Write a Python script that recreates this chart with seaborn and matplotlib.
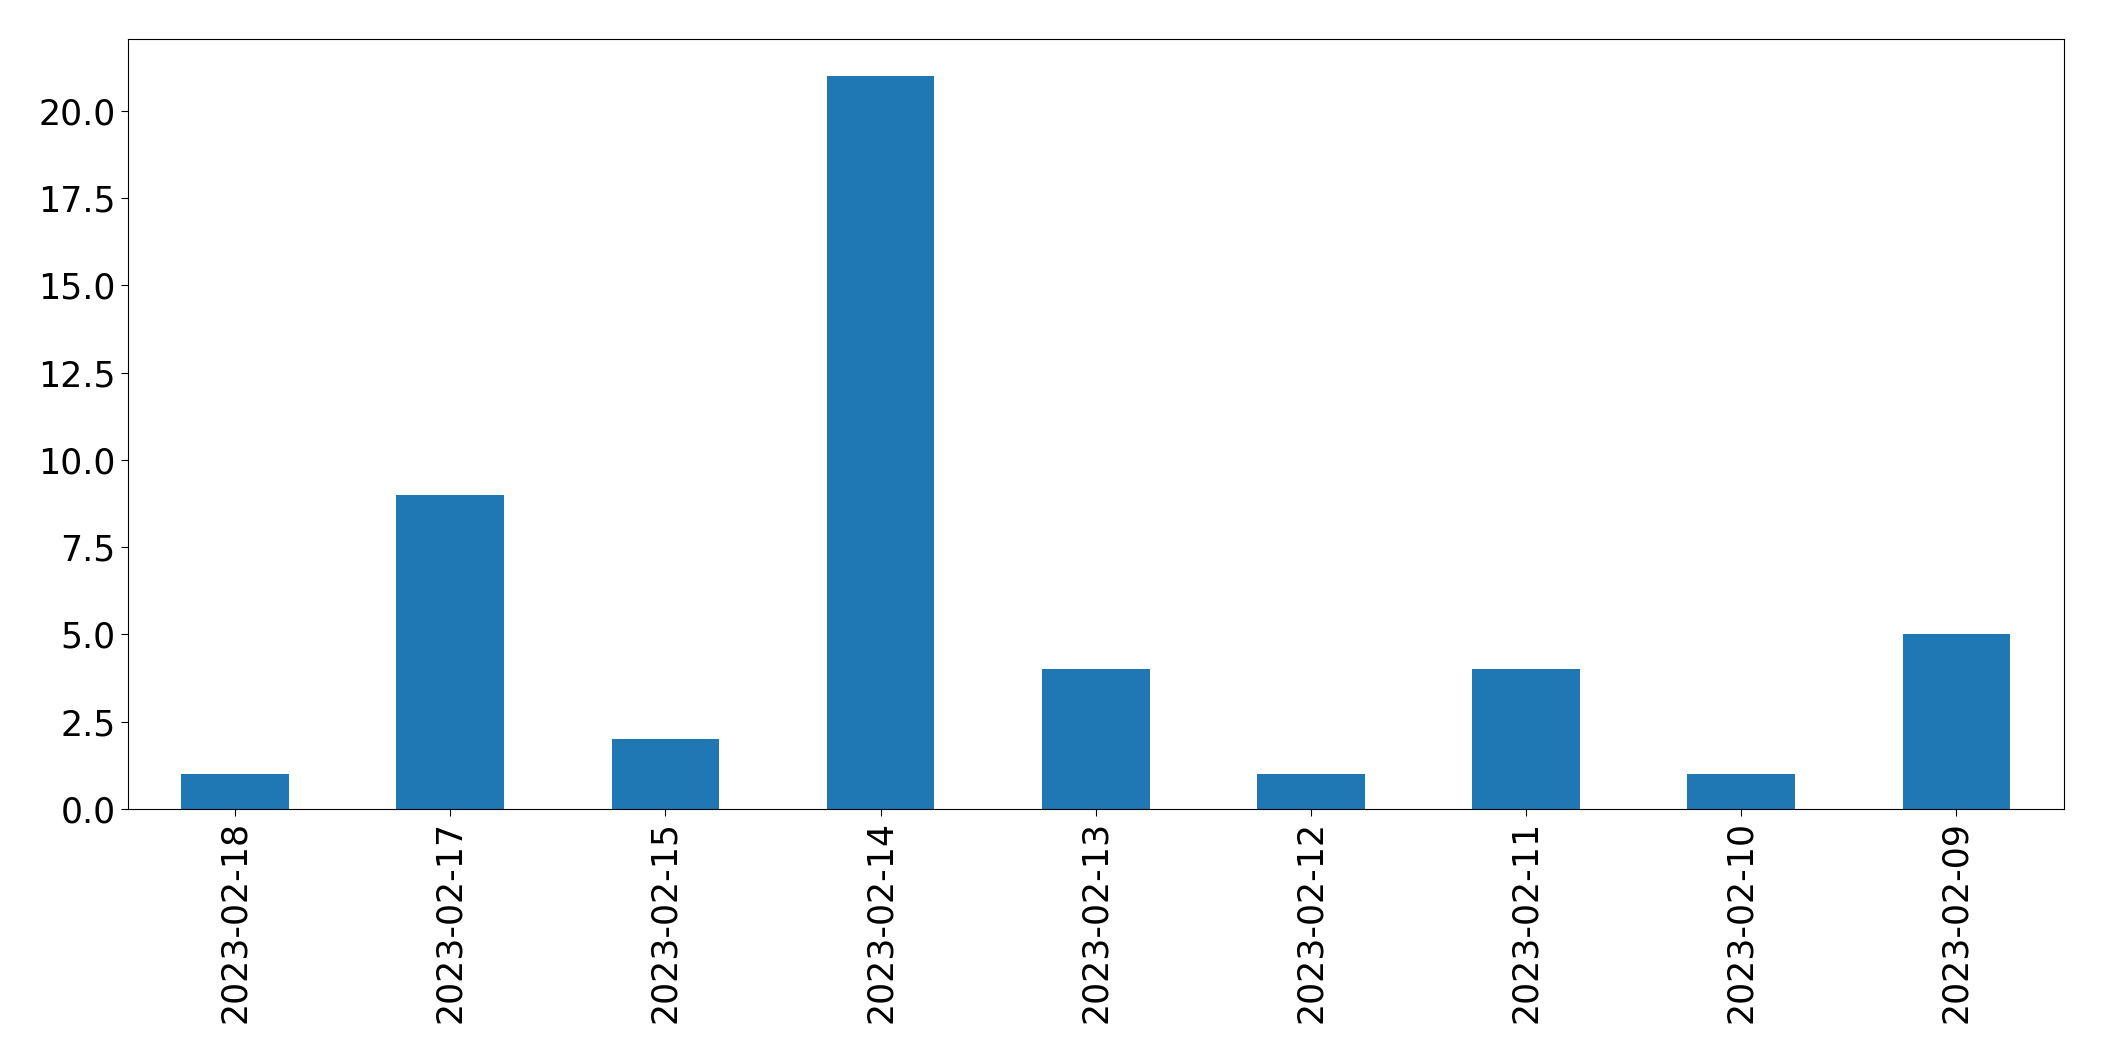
import matplotlib
matplotlib.use("Agg")
import matplotlib.pyplot as plt
import seaborn as sns
import pandas as pd

dates = ["2023-02-18", "2023-02-17", "2023-02-15", "2023-02-14", "2023-02-13",
         "2023-02-12", "2023-02-11", "2023-02-10", "2023-02-09"]
counts = [1, 9, 2, 21, 4, 1, 4, 1, 5]

df = pd.DataFrame({"date": dates, "count": counts})

fig = plt.figure(figsize=(21.04, 10.61), dpi=100)
ax = fig.add_axes([0.0606, 0.2375, 0.9204, 0.7257])
sns.barplot(data=df, x="date", y="count", color="#1f77b4", saturation=1,
            width=0.5, ax=ax, order=dates)
ax.set_xlim(-0.5, 8.5)
ax.set_ylim(0, 22.05)
ax.set_xlabel("")
ax.set_ylabel("")
ax.tick_params(axis="both", labelsize=25, length=5)
for lab in ax.get_xticklabels():
    lab.set_rotation(90)
fig.savefig("out.png", dpi=100)
